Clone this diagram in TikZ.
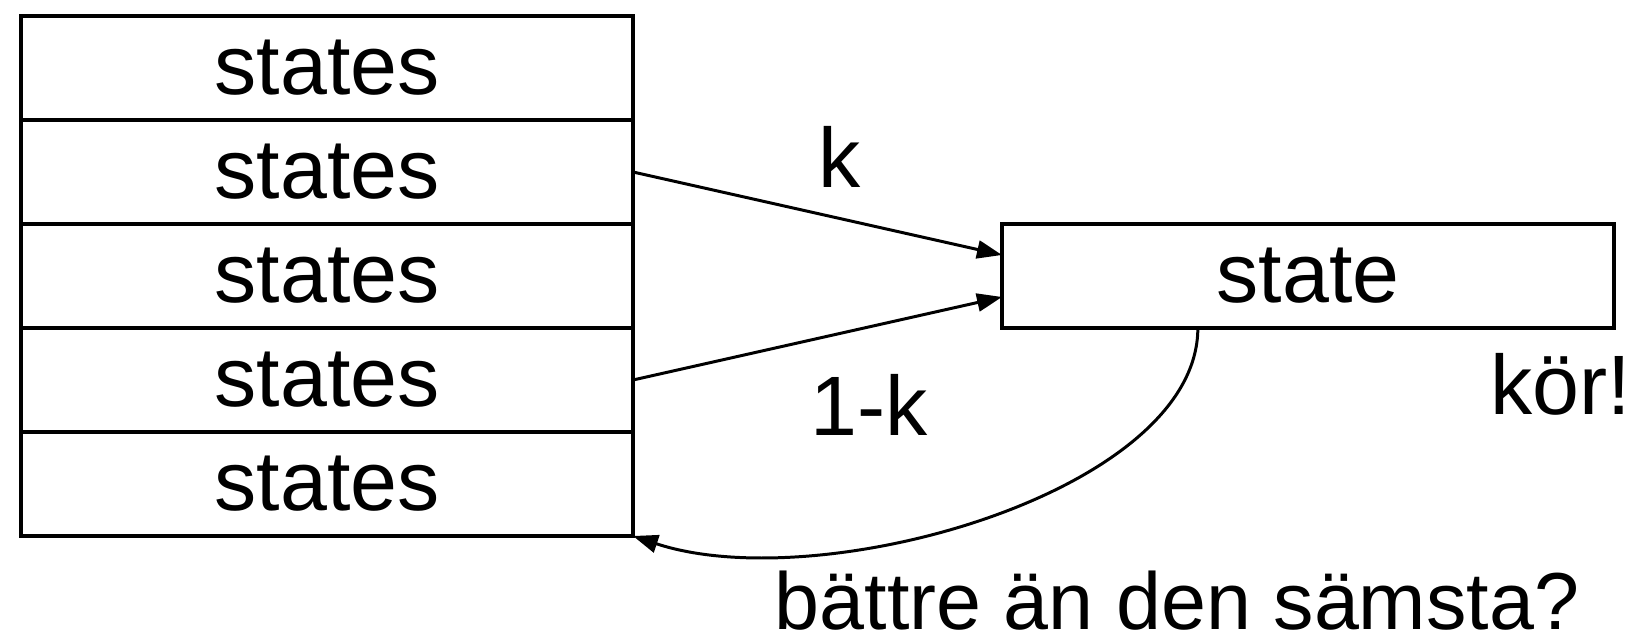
\documentclass[tikz,border=0pt]{standalone}
\usepackage{fontspec}
\setmainfont{Liberation Sans}
\usetikzlibrary{arrows.meta,calc,positioning}

\begin{document}
\begin{tikzpicture}[
    cell/.style={draw, line width=0.9pt, minimum width=6.12cm, minimum height=1.04cm, inner sep=0pt, outer sep=0pt, font=\fontsize{24}{28}\selectfont},
    lbl/.style={inner sep=0pt, font=\fontsize{24}{28}\selectfont},
    link/.style={line width=0.85pt, -{Triangle[length=0.25cm,width=0.18cm]}}
  ]
  \useasboundingbox (0,0) rectangle (16.37,6.41);

  % stack of states
  \node[cell] (s1) at (3.27,5.73) {states};
  \node[cell, below=0pt of s1] (s2) {states};
  \node[cell, below=0pt of s2] (s3) {states};
  \node[cell, below=0pt of s3] (s4) {states};
  \node[cell, below=0pt of s4] (s5) {states};

  % the new state
  \node[cell, right=3.69cm of s3] (cur) {state};

  \draw[link] (s2.east) -- ($(cur.west)+(0,0.21)$);
  \draw[link] (s4.east) -- ($(cur.west)+(0,-0.21)$);
  \draw[link] ($(cur.south west)!0.32!(cur.south east)$) .. controls +(0,-1.64) and +(1.87,-0.62) .. (s5.south east);

  % labels
  \node[lbl] (pk) at (8.40,4.84) {k};
  \node[lbl] (pnk) at (8.69,2.36) {1-k};
  \node[lbl] (run) at (15.61,2.57) {kör!};
  \node[lbl, font=\fontsize{23}{28}\selectfont] (ask) at (11.77,0.40) {bättre än den sämsta?};
\end{tikzpicture}
\end{document}
